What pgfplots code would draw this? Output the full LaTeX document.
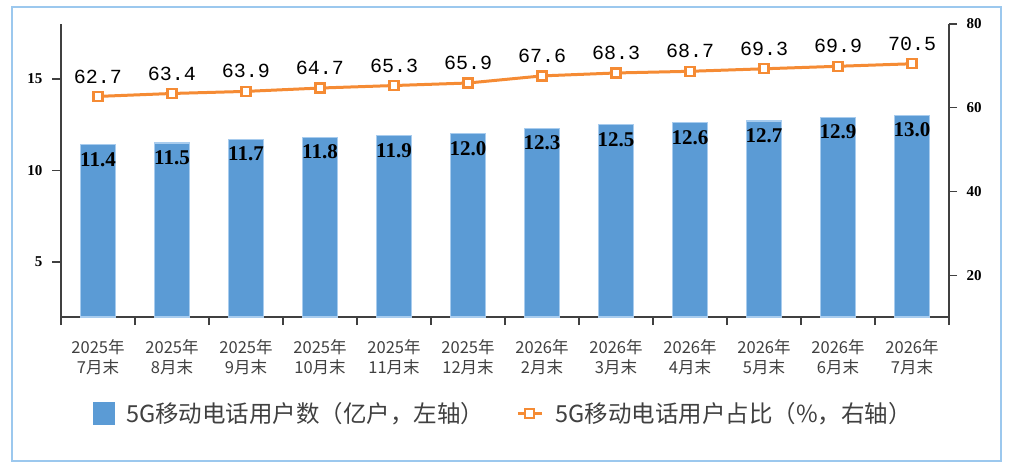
\documentclass[border=0pt]{standalone}
\usepackage{pgfplots}
\pgfplotsset{compat=1.18}
\usepackage{fontspec}
\setmainfont{Liberation Serif}
\newfontfamily\cjk{Noto Sans CJK SC}
\newfontfamily\mono{Liberation Mono}
\definecolor{barblue}{HTML}{5B9BD5}
\definecolor{baredge}{HTML}{A8CCEE}
\definecolor{lineorange}{HTML}{F58B34}
\definecolor{frameblue}{HTML}{9CC8EE}
\definecolor{axisgray}{HTML}{404040}
\begin{document}
\begin{tikzpicture}
\useasboundingbox (-61pt,-151pt) rectangle (950pt,317pt);
\draw[frameblue, line width=2pt] (-49pt,-144pt) rectangle (940pt,310pt);
\begin{axis}[
  at={(0,0)}, anchor=south west,
  scale only axis, width=888pt, height=293pt,
  xmin=-0.5, xmax=11.5, ymin=2, ymax=18,
  axis x line*=bottom, axis y line*=left,
  axis line style={axisgray, line width=1.6pt},
  xtick={0,...,11},
  xticklabels={{2025年\\7月末},{2025年\\8月末},{2025年\\9月末},{2025年\\10月末},{2025年\\11月末},{2025年\\12月末},{2026年\\2月末},{2026年\\3月末},{2026年\\4月末},{2026年\\5月末},{2026年\\6月末},{2026年\\7月末}},
  major x tick style={draw=none},
  minor xtick={-0.5,0.5,...,11.5},
  ytick={5,10,15},
  tick align=outside,
  major tick length=9pt, minor tick length=8pt,
  tick style={axisgray, line width=1.2pt},
  x tick label style={font=\cjk\fontsize{16.5}{20.5}\selectfont, text=axisgray, align=center, yshift=-10pt},
  y tick label style={font=\fontsize{15}{15}\selectfont\bfseries, xshift=-6pt},
  /pgf/number format/assume math mode=true,
  ybar, bar width=35pt,
  nodes near coords,
  nodes near coords style={font=\fontsize{21}{21}\selectfont\bfseries, anchor=center, yshift=-14.5pt,
    /pgf/number format/fixed, /pgf/number format/precision=1, /pgf/number format/fixed zerofill},
  clip=false,
]
\addplot[fill=barblue, draw=baredge, line width=1.2pt] coordinates {
(0,11.4) (1,11.5) (2,11.7) (3,11.8) (4,11.9) (5,12.0) (6,12.3) (7,12.5) (8,12.6) (9,12.7) (10,12.9) (11,13.0)};
\end{axis}
\begin{axis}[
  at={(0,0)}, anchor=south west,
  scale only axis, width=888pt, height=293pt,
  xmin=-0.5, xmax=11.5, ymin=10, ymax=80,
  axis x line=none, axis y line*=right,
  axis line style={axisgray, line width=1.6pt},
  ytick={20,40,60,80},
  tick align=outside, major tick length=8pt,
  tick style={axisgray, line width=1.2pt},
  y tick label style={font=\fontsize{15}{15}\selectfont\bfseries, xshift=6pt},
  /pgf/number format/assume math mode=true,
  clip=false,
  legend style={at={(0.498,-0.328)}, anchor=center, draw=none, fill=none,
    font=\cjk\fontsize{23.5}{23.5}\selectfont, text=axisgray, legend columns=2,
    /tikz/every odd column/.append style={column sep=10pt},
    /tikz/every even column/.append style={column sep=30pt},
    nodes={inner xsep=2pt}},
  legend cell align=left,
]
\addlegendimage{area legend, legend image code/.code={\fill[barblue] (0pt,-11pt) rectangle (21pt,11pt);}}
\addlegendentry{5G移动电话用户数（亿户，左轴）}
\addplot[lineorange, line width=3pt, mark=square*, mark size=4.5pt,
  mark options={fill=white, draw=lineorange, line width=2.2pt},
  nodes near coords,
  nodes near coords style={font=\mono\fontsize{20}{20}\selectfont, text=black, anchor=center, yshift=20pt,
    /pgf/number format/fixed, /pgf/number format/precision=1, /pgf/number format/fixed zerofill},
  legend image code/.code={\draw[lineorange, line width=3pt] (0pt,0pt) -- (24pt,0pt);
     \draw[lineorange, fill=white, line width=2.2pt] (7.5pt,-4.5pt) rectangle (16.5pt,4.5pt);}
] coordinates {
(0,62.7) (1,63.4) (2,63.9) (3,64.7) (4,65.3) (5,65.9) (6,67.6) (7,68.3) (8,68.7) (9,69.3) (10,69.9) (11,70.5)};
\addlegendentry{5G移动电话用户占比（\%，右轴）}
\end{axis}
\end{tikzpicture}
\end{document}
